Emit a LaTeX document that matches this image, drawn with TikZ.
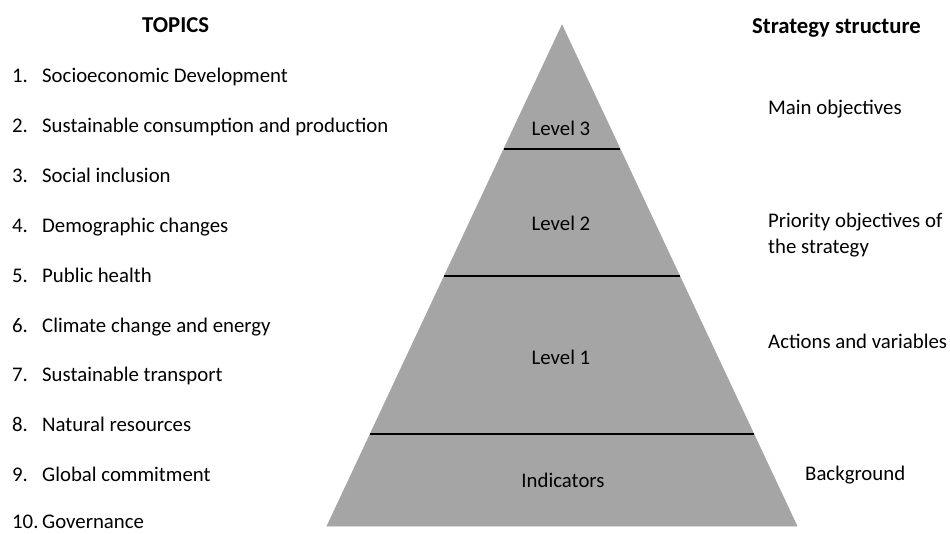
\documentclass[tikz,border=0pt]{standalone}
\usepackage{fontspec}
\setmainfont{Carlito}
\usetikzlibrary{calc}
\definecolor{pyrgray}{HTML}{A5A5A5}
\tikzset{
  txt/.style={anchor=base west, inner sep=0pt, font=\fontsize{20.8}{26}\selectfont},
  head/.style={anchor=base west, inner sep=0pt, font=\fontsize{22.7}{27}\selectfont\bfseries},
  lvl/.style={anchor=base, inner sep=0pt, font=\fontsize{20.8}{26}\selectfont},
  divider/.style={line width=2pt, black}
}
\begin{document}
\begin{tikzpicture}[x=1pt,y=-1pt]
      \useasboundingbox (0,0) rectangle (950,533);
      % pyramid
      \coordinate (apex) at (562,25);
      \coordinate (bl) at (327,526);
      \coordinate (br) at (797,526);
      \filldraw[pyrgray, line width=0.6pt] (apex) -- (bl) -- (br) -- cycle;
      \coordinate (d3l) at ($(apex)!0.2475!(bl)$);
      \coordinate (d3r) at ($(apex)!0.2475!(br)$);
      \coordinate (d2l) at ($(apex)!0.501!(bl)$);
      \coordinate (d2r) at ($(apex)!0.501!(br)$);
      \coordinate (d1l) at ($(apex)!0.8164!(bl)$);
      \coordinate (d1r) at ($(apex)!0.8164!(br)$);
      \begin{scope}[divider]
        \draw (d3l) -- (d3r);
        \draw (d2l) -- (d2r);
        \draw (d1l) -- (d1r);
      \end{scope}
      \path
        (561,135) node[lvl] (lvl3){Level 3}
        (561,230) node[lvl] (lvl2){Level 2}
        (561,364) node[lvl] (lvl1){Level 1}
        (563,487) node[lvl] (ind){Indicators};
      % topics
      \node[head] (topics) at (142,32.5) {TOPICS};
      \path
        (12,82.5) node[txt] (n1){1.}
        (12,132.4) node[txt] (n2){2.}
        (12,182.3) node[txt] (n3){3.}
        (12,232.2) node[txt] (n4){4.}
        (12,282.1) node[txt] (n5){5.}
        (12,332) node[txt] (n6){6.}
        (12,381.9) node[txt] (n7){7.}
        (12,431.8) node[txt] (n8){8.}
        (12,481.7) node[txt] (n9){9.}
        (12,528) node[txt] (n10){10.};
      \path
        (42,82.5) node[txt] (t1){Socioeconomic Development}
        (42,132.4) node[txt] (t2){Sustainable consumption and production}
        (42,182.3) node[txt] (t3){Social inclusion}
        (42,232.2) node[txt] (t4){Demographic changes}
        (42,282.1) node[txt] (t5){Public health}
        (42,332) node[txt] (t6){Climate change and energy}
        (42,381.9) node[txt] (t7){Sustainable transport}
        (42,431.8) node[txt] (t8){Natural resources}
        (42,481.7) node[txt] (t9){Global commitment}
        (42,528) node[txt] (t10){Governance};
      % strategy structure
      \node[head] (strat) at (752,33) {Strategy structure};
      \path
        (768,114) node[txt] (mainobj){Main objectives}
        (768,253) node[txt, align=left] (prioobj){Priority objectives of\\the strategy}
        (768,348) node[txt] (actions){Actions and variables}
        (805,480) node[txt] (backgr){Background};
    \end{tikzpicture}
\end{document}
